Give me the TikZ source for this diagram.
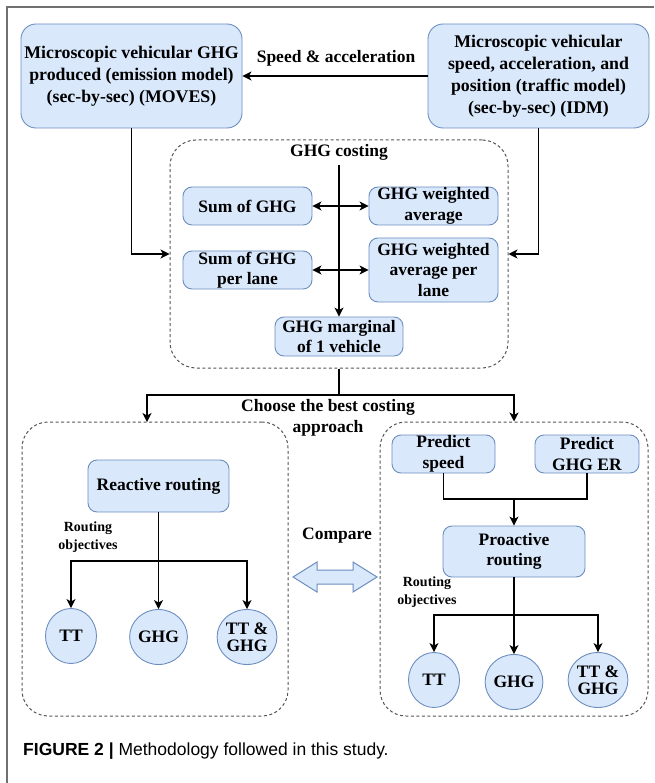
\documentclass[tikz,border=0pt]{standalone}
\usepackage{fontspec}
\setmainfont{Liberation Serif}
\newfontfamily\tfont{Liberation Serif}
\newfontfamily\capfont{Liberation Sans}
\usetikzlibrary{arrows.meta,shapes.geometric}
\definecolor{bfill}{HTML}{DAE8FC}
\definecolor{bdraw}{HTML}{6C8EBF}
\definecolor{dgray}{HTML}{555555}
\definecolor{fgray}{HTML}{707070}
\begin{document}
\begin{tikzpicture}[x=1pt,y=-1pt,
  txt/.style={font=\tfont\fontsize{17.5}{20.5}\selectfont\bfseries, align=center, inner sep=0pt},
  bx/.style={txt, draw=bdraw, fill=bfill, rounded corners=9pt, line width=0.9pt},
  bigbx/.style={bx, rounded corners=15pt, font=\tfont\fontsize{17.8}{22}\selectfont\bfseries},
  cbx/.style={txt, ellipse, draw=bdraw, fill=bfill, line width=0.9pt, minimum width=51pt, minimum height=55pt, font=\tfont\fontsize{17.5}{17}\selectfont\bfseries},
  dbox/.style={draw=dgray, dash pattern=on 3pt off 2.5pt, line width=1pt, rounded corners=26pt, inner sep=0pt},
  small/.style={txt, font=\tfont\fontsize{14}{17.5}\selectfont\bfseries},
  conn/.style={line width=1.2pt, draw=black},
  arr/.style={conn, -{Stealth[length=9pt,width=9pt,inset=2.5pt]}},
  arrb/.style={conn, {Stealth[length=9pt,width=9pt,inset=2.5pt]}-{Stealth[length=9pt,width=9pt,inset=2.5pt]}}
]
\useasboundingbox (0,0) rectangle (654,783);
% frame
\coordinate (f1) at (7,783); \coordinate (f2) at (7,7); \coordinate (f3) at (654,7);
\draw[fgray, line width=1.6pt] (f1) -- (f2) -- (f3);

% top boxes
\node[bigbx, minimum width=221pt, minimum height=104pt] (A) at (131.5,76)
  {Microscopic vehicular GHG\\produced (emission model)\\(sec-by-sec) (MOVES)};
\node[bigbx, minimum width=221pt, minimum height=104pt] (B) at (538.5,76)
  {Microscopic vehicular\\speed, acceleration, and\\position (traffic model)\\(sec-by-sec) (IDM)};
\draw[arr] (B.west) -- (A.east);
\node[txt] (lsa) at (336,58) {Speed \& acceleration};

% GHG costing container
\node[dbox, minimum width=338pt, minimum height=228pt] (C) at (339,254) {};
\node[txt] (gct) at (339,152) {GHG costing};
\node[bx, minimum width=129pt, minimum height=38pt] (s1) at (247.5,206) {Sum of GHG};
\node[bx, minimum width=129pt, minimum height=38pt] (w1) at (433.5,206) {GHG weighted\\average};
\node[bx, minimum width=129pt, minimum height=38pt] (s2) at (247.5,270) {Sum of GHG\\per lane};
\node[bx, minimum width=129pt, minimum height=64pt] (w2) at (433.5,270) {GHG weighted\\average per\\lane};
\node[bx, minimum width=128pt, minimum height=39pt] (mg) at (339,336.5) {GHG marginal\\of 1 vehicle};
\coordinate (gc) at (339,165);
\draw[arr] (gc) -- (mg.north);
\draw[arrb] (s1.east) -- (w1.west);
\draw[arrb] (s2.east) -- (w2.west);
\draw[arr] (A.south) |- (C.west);
\draw[arr] (B.south) |- (C.east);

% routing containers
\node[dbox, minimum width=266pt, minimum height=294pt] (D) at (155,569) {};
\node[dbox, minimum width=268pt, minimum height=294pt] (E) at (514,569) {};
\coordinate (j) at (339,395);
\coordinate (dt) at (147,422);
\draw[conn] (C.south) -- (j);
\draw[arr] (j) -| (dt);
\draw[arr] (j) -| (E.north);
\node[txt] (cba) at (328,418) {Choose the best costing\\approach};

% reactive
\node[bx, minimum width=141pt, minimum height=52pt] (R) at (158.5,486) {Reactive routing};
\node[small] (ro1) at (88,537) {Routing\\objectives};
\node[cbx] (tt1) at (71,636) {TT};
\node[cbx] (g1) at (158.5,637) {GHG};
\node[cbx] (tg1) at (247,637) {TT \&\\GHG};
\coordinate (rb) at (158.5,561);
\draw[conn] (R.south) -- (rb);
\draw[arr] (rb) -- (g1.north);
\draw[arr] (rb) -| (tt1.north);
\draw[arr] (rb) -| (tg1.north);

% proactive
\node[bx, minimum width=103pt, minimum height=38pt] (ps) at (443.5,454) {Predict\\speed};
\node[bx, minimum width=104pt, minimum height=38pt] (pg) at (587,454) {Predict\\GHG ER};
\node[bx, minimum width=142pt, minimum height=51pt] (pa) at (514,551.5) {Proactive\\routing};
\coordinate (jn) at (514,499);
\draw[conn] (ps.south) |- (jn) -| (pg.south);
\draw[arr] (jn) -- (pa.north);
\node[small] (ro2) at (427,592) {Routing\\objectives};
\node[cbx] (tt2) at (434,680) {TT};
\node[cbx] (g2) at (514,682) {GHG};
\node[cbx] (tg2) at (598,680) {TT \&\\GHG};
\coordinate (pb) at (514,615);
\draw[conn] (pa.south) -- (pb);
\draw[arr] (pb) -- (g2.north);
\draw[arr] (pb) -| (tt2.north);
\draw[arr] (pb) -| (tg2.north);

% compare
\node[txt] (cmp) at (337,536) {Compare};
\draw[draw=bdraw, fill=bfill, line width=1pt, line join=miter]
  (293,577) -- (317,562) -- (317,570) -- (353,570) -- (353,562) -- (377,577)
  -- (353,592) -- (353,584) -- (317,584) -- (317,592) -- cycle;

% caption
\node[anchor=west, inner sep=0pt, font=\capfont\fontsize{17.5}{20}\selectfont] (cap) at (23,751)
  {\textbf{FIGURE 2 |} Methodology followed in this study.};
\end{tikzpicture}
\end{document}
